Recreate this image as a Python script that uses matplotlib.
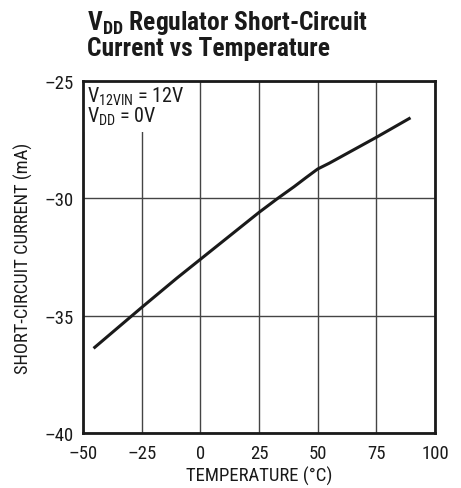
import numpy as np
import matplotlib.pyplot as plt

plt.rcParams["font.family"] = ["Roboto Condensed", "DejaVu Sans"]
plt.rcParams["mathtext.fontset"] = "custom"
plt.rcParams["mathtext.rm"] = "Roboto Condensed"
plt.rcParams["mathtext.bf"] = "Roboto Condensed:bold"

# datos
temperatura = [-45, -35, -25, -10, 0, 15, 25, 33, 40, 45, 50, 55, 65, 75, 89]
corriente = [-36.35, -35.5, -34.65, -33.4, -32.6, -31.4, -30.6, -30.0, -29.5, -29.12, -28.75, -28.5, -27.95, -27.4, -26.6]

x_ticks = [-50, -25, 0, 25, 50, 75, 100]
y_ticks = [-40, -35, -30, -25]

fig = plt.figure(figsize=(4.61, 4.89), dpi=100)
ax = fig.add_axes([83 / 461, 1 - 434 / 489, 352 / 461, 352 / 489])

ax.plot(temperatura, corriente, color="#1a1a1a", linewidth=2.2, zorder=3)

ax.set_xlim(-50, 100)
ax.set_ylim(-40, -25)
ax.set_xticks(x_ticks)
ax.set_yticks(y_ticks)
ax.set_xticklabels([str(t).replace("-", "\u2013") for t in x_ticks], fontsize=13.5)
ax.set_yticklabels([str(t).replace("-", "\u2013") for t in y_ticks], fontsize=13.5)
ax.tick_params(axis="x", length=0, pad=8, colors="#1a1a1a")
ax.tick_params(axis="y", length=0, pad=7, colors="#1a1a1a")
ax.grid(color="#444444", linewidth=1.0)
for s in ax.spines.values():
    s.set_linewidth(2.0)
    s.set_color("#1a1a1a")
    s.set_zorder(5)

ax.set_xlabel("TEMPERATURE (\u00b0C)", fontsize=13.5, color="#1a1a1a", labelpad=3)
ax.set_ylabel("SHORT-CIRCUIT CURRENT (mA)", fontsize=13.3, color="#1a1a1a", labelpad=8)

ax.text(-48.3, -25.15, "V$_{\\mathregular{12VIN}}$ = 12V\nV$_{\\mathregular{DD}}$ = 0V",
        fontsize=14.5, va="top", ha="left", linespacing=0.9, zorder=4, color="#1a1a1a",
        bbox=dict(facecolor="white", edgecolor="none", pad=3))

fig.text(87 / 461, 1 - 9 / 489,
         "V$_{\\mathbf{DD}}$ Regulator Short-Circuit\nCurrent vs Temperature",
         fontsize=18.4, fontweight="bold", va="top", ha="left", linespacing=0.98,
         color="#1a1a1a")

plt.savefig("out.png", dpi=100)
plt.close()
